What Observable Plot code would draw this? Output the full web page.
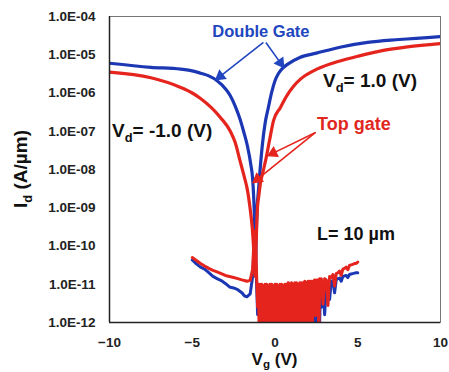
<!DOCTYPE html>
<html><head><meta charset="utf-8">
<script src="https://cdn.jsdelivr.net/npm/d3@7"></script>
<script src="https://cdn.jsdelivr.net/npm/@observablehq/plot@0.6"></script>
<style>body{margin:0;background:#fff} svg{display:block}</style>
</head><body><div id="chart"></div>
<script>
// ---- data ----
const xTicks = [-10, -5, 0, 5, 10];
const yTicks = [1e-12, 1e-11, 1e-10, 1e-9, 1e-8, 1e-7, 1e-6, 1e-5, 1e-4];

// Double Gate, full sweep
const blueMainV = [-10, -7.5, -5.7, -5, -4.5, -4, -3.5, -3, -2.7, -2.4, -2.1, -1.9, -1.66, -1.45, -1.36, -1.28, -1.22, -1.18, -1.14, -1.08, -1.0, -0.9, -0.75, -0.6, -0.4, -0.2, 0, 0.2, 0.45, 0.75, 1.5, 2.5, 4, 5.6, 7.5, 10];
const blueMainI = [6.0e-6, 4.7e-6, 4.2e-6, 3.8e-6, 3.3e-6, 2.8e-6, 2.1e-6, 1.3e-6, 8.5e-7, 4.5e-7, 2.0e-7, 1.0e-7, 4.0e-8, 1.26e-8, 6.3e-9, 1.6e-9, 2.5e-10, 2.0e-11, 1.6e-10, 1.0e-9, 2.8e-9, 1.0e-8, 5.0e-8, 1.6e-7, 4.2e-7, 1.05e-6, 2.1e-6, 3.2e-6, 4.4e-6, 5.6e-6, 8.5e-6, 1.1e-5, 1.6e-5, 2.1e-5, 2.5e-5, 3.0e-5];

// Top gate, full sweep
const redMainV = [-10, -7.5, -5.7, -5, -4.5, -3.3, -2.7, -2.4, -2.1, -1.85, -1.66, -1.48, -1.38, -1.3, -1.24, -1.2, -1.16, -1.1, -1.06, -0.98, -0.88, -0.72, -0.57, -0.33, -0.09, 0.33, 0.7, 1.12, 1.54, 2.33, 3.53, 5, 6.55, 8, 10];
const redMainI = [3.5e-6, 2.5e-6, 1.4e-6, 1.0e-6, 7.2e-7, 2.3e-7, 1.0e-7, 5.0e-8, 1.6e-8, 6.3e-9, 2.8e-9, 7.9e-10, 3.2e-10, 1.0e-10, 3.2e-11, 1.6e-11, 6.3e-11, 4.0e-10, 1.0e-9, 2.0e-9, 4.4e-9, 8.9e-9, 1.7e-8, 5.8e-8, 1.9e-7, 4.2e-7, 8.3e-7, 1.5e-6, 2.3e-6, 3.8e-6, 6.1e-6, 9.1e-6, 1.3e-5, 1.6e-5, 1.95e-5];

// low-voltage sweeps (-5 V .. 5 V): off-state branch
const lowV = [-5, -4.75, -4.5, -4.25, -4, -3.75, -3.5, -3.25, -3, -2.75, -2.5, -2.25, -2, -1.85, -1.7, -1.5, -1.35, -1.25, -1.15, -1.05, -1.0];
const redLowI = [5.0e-11, 4.2e-11, 3.5e-11, 3.0e-11, 2.6e-11, 2.3e-11, 2.1e-11, 1.9e-11, 1.7e-11, 1.6e-11, 1.5e-11, 1.4e-11, 1.3e-11, 1.25e-11, 1.2e-11, 1.26e-11, 2.5e-11, 2.5e-10, 6.0e-11, 2.5e-12, 1.0e-11];
const blueLowI = [4.3e-11, 3.4e-11, 2.8e-11, 2.5e-11, 2.0e-11, 1.6e-11, 1.4e-11, 1.25e-11, 1.05e-11, 8.5e-12, 8.0e-12, 7.2e-12, 6.0e-12, 5.0e-12, 4.7e-12, 5.6e-12, 1.6e-11, 1.6e-10, 3.0e-11, 1.6e-12, 8.0e-12];

// noise floor (-0.95 V .. 2.8 V)
const noiseV = [-0.95, -0.9, -0.85, -0.8, -0.75, -0.7, -0.65, -0.6, -0.55, -0.5, -0.45, -0.4, -0.35, -0.3, -0.25, -0.2, -0.15, -0.1, -0.05, 0,
  0.05, 0.1, 0.15, 0.2, 0.25, 0.3, 0.35, 0.4, 0.45, 0.5, 0.55, 0.6, 0.65, 0.7, 0.75, 0.8, 0.85, 0.9, 0.95, 1.0,
  1.05, 1.1, 1.15, 1.2, 1.25, 1.3, 1.35, 1.4, 1.45, 1.5, 1.55, 1.6, 1.65, 1.7, 1.75, 1.8, 1.85, 1.9, 1.95, 2.0,
  2.05, 2.1, 2.15, 2.2, 2.25, 2.3, 2.35, 2.4, 2.45, 2.5, 2.55, 2.6, 2.65, 2.7, 2.75, 2.8];
const redNoiseI = [3e-13, 1.0e-11, 4e-13, 1.0e-11, 2e-13, 9e-12, 5e-13, 1.0e-11, 1.5e-12, 1.0e-11, 3e-13, 9e-12, 6e-13, 1.0e-11, 2e-12, 1.0e-11, 4e-13, 9e-12, 1.2e-12, 1.0e-11,
  3e-13, 1.0e-11, 2.5e-12, 9e-12, 5e-13, 1.0e-11, 8e-13, 1.0e-11, 3e-13, 9e-12, 1.6e-12, 1.0e-11, 4e-13, 1.0e-11, 2e-13, 1.1e-11, 3e-12, 1.0e-11, 6e-13, 1.1e-11,
  1.3e-12, 1.0e-11, 4e-13, 1.1e-11, 2.5e-12, 1.1e-11, 5e-13, 1.0e-11, 3e-13, 1.1e-11, 4e-12, 1.1e-11, 6e-13, 1.1e-11, 2e-12, 1.2e-11, 4e-13, 1.1e-11, 3e-12, 1.2e-11,
  5e-13, 1.2e-11, 5e-12, 1.2e-11, 3e-13, 1.2e-11, 4e-12, 1.3e-11, 1.5e-12, 1.3e-11, 6e-12, 1.3e-11, 4e-13, 1.4e-11, 5e-12, 1.4e-11];
const blueNoiseI = [8e-12, 1e-12, 8e-12, 3e-13, 8e-12, 2e-12, 8e-12, 5e-13, 8e-12, 3e-13, 8e-12, 1.5e-12, 8e-12, 2e-13, 8e-12, 3e-12, 8e-12, 6e-13, 8e-12, 1e-12,
  8e-12, 4e-13, 8e-12, 2e-12, 8e-12, 5e-13, 8e-12, 3e-12, 8e-12, 3e-13, 8e-12, 1.5e-12, 8e-12, 6e-13, 8e-12, 2e-12, 8e-12, 4e-13, 8e-12, 3e-12,
  8e-12, 5e-13, 9e-12, 2e-12, 9e-12, 3e-13, 9e-12, 4e-12, 9e-12, 6e-13, 9e-12, 2e-12, 9e-12, 5e-13, 9e-12, 3e-12, 9e-12, 2e-13, 9e-12, 1.5e-12,
  1e-11, 4e-13, 1e-11, 3e-12, 1e-11, 6e-13, 1e-11, 2e-12, 1e-11, 5e-13, 1e-11, 3e-12, 1e-11, 1e-12, 1e-11, 2.5e-12];

// rising tail (2.9 V .. 5 V)
const tailV = [2.9, 3.0, 3.1, 3.2, 3.3, 3.4, 3.5, 3.6, 3.7, 3.8, 3.9, 4.0, 4.1, 4.2, 4.3, 4.4, 4.5, 4.6, 4.7, 4.8, 4.9, 5.0];
const redTailI = [3e-12, 1.4e-11, 1.3e-11, 2.8e-12, 1.6e-11, 1.5e-11, 1.8e-11, 9e-12, 1.9e-11, 2.0e-11, 2.2e-11, 1.7e-11, 2.5e-11, 2.6e-11, 2.8e-11, 2.4e-11, 3.1e-11, 3.2e-11, 3.3e-11, 3.5e-11, 3.5e-11, 3.8e-11];
const blueTailI = [1e-11, 1.6e-12, 1.0e-11, 1.1e-11, 4e-12, 1.2e-11, 1.25e-11, 6e-12, 1.3e-11, 1.4e-11, 1.45e-11, 1.2e-11, 1.6e-11, 1.65e-11, 1.7e-11, 1.5e-11, 1.8e-11, 1.85e-11, 1.9e-11, 1.95e-11, 2.0e-11, 2.0e-11];

// annotation arrows (data coordinates: V, A/µm)
const blueArrows = [{x1: -0.7, y1: 2.1e-5, x2: -3.47, y2: 2.4e-6}, {x1: -0.55, y1: 2.1e-5, x2: 0.45, y2: 5.2e-6}];
const redArrows = [{x1: 2.45, y1: 9.3e-8, x2: -0.3, y2: 2.45e-8}, {x1: 2.45, y1: 9.3e-8, x2: -1.22, y2: 4.9e-9}];

const BLUE = "#1c37b3", RED = "#e5241d", BLUE_TXT = "#2146c0";
const rows = (vs, is) => vs.map((v, k) => ({v, i: is[k]}));
const cat = (...pairs) => pairs.flatMap(([vs, is]) => rows(vs, is));

const W = 449, H = 372, ML = 109, MR = 9, MT = 16, MB = 50;
const FONT = "Liberation Sans, Arial, sans-serif";

// scales used to orient arrow heads (same as the plot's)
const xs = Plot.scale({x: {domain: [-10, 10], range: [ML, W - MR]}});
const ys = Plot.scale({y: {type: "log", domain: [1e-12, 1e-4], range: [H - MB, MT]}});
const heads = arr => arr.map(a => {
  const px1 = xs.apply(a.x1), py1 = ys.apply(a.y1), px2 = xs.apply(a.x2), py2 = ys.apply(a.y2);
  const dx = px2 - px1, dy = py2 - py1, L = Math.hypot(dx, dy);
  const bx = px2 - 3.5 * dx / L, by = py2 - 3.5 * dy / L;
  return {x: xs.invert(bx), y: ys.invert(by), rot: Math.atan2(dx, -dy) * 180 / Math.PI};
});

const smooth = (data, c) => Plot.line(data, {x: "v", y: "i", stroke: c, strokeWidth: 3.2, clip: true, curve: "monotone-x", strokeLinejoin: "round"});
const jag = (data, c, w) => Plot.line(data, {x: "v", y: "i", stroke: c, strokeWidth: w, clip: true, curve: "linear", strokeLinejoin: "round"});
const shafts = (arr, c) => Plot.link(arr, {x1: "x1", y1: "y1", x2: "x2", y2: "y2", stroke: c, strokeWidth: 1.6});
const tips = (arr, c) => Plot.dot(heads(arr), {x: "x", y: "y", rotate: "rot", symbol: "triangle", r: 4.5, fill: c, stroke: "none"});

const plot = Plot.plot({
  width: W, height: H,
  marginLeft: ML, marginRight: MR, marginTop: MT, marginBottom: MB,
  style: {fontFamily: FONT, fontSize: "13.5px", fontWeight: "bold", color: "#222", background: "#fff"},
  x: {domain: [-10, 10], ticks: xTicks, tickSize: 0, tickPadding: 15, label: null},
  y: {type: "log", domain: [1e-12, 1e-4], ticks: yTicks, tickSize: 0, tickPadding: 14, label: null,
      tickFormat: d => "1.0E-" + String(-Math.round(Math.log10(d))).padStart(2, "0")},
  marks: [
    Plot.frame({stroke: "#777", strokeWidth: 1}),
    smooth(rows(blueMainV, blueMainI), BLUE),
    jag(cat([lowV, blueLowI], [noiseV, blueNoiseI], [tailV, blueTailI]), BLUE, 3),
    smooth(rows(redMainV, redMainI), RED),
    jag(cat([lowV, redLowI], [noiseV, redNoiseI], [tailV, redTailI]), RED, 3),
    Plot.ruleX([-10], {stroke: "#222", strokeWidth: 1.5}),
    Plot.ruleY([1e-12], {stroke: "#222", strokeWidth: 1.5}),
    shafts(blueArrows, BLUE_TXT), tips(blueArrows, BLUE_TXT),
    shafts(redArrows, RED), tips(redArrows, RED)
  ]
});

document.getElementById("chart").append(plot);

// ---- text annotations with subscripts ----
const sx = plot.scale("x"), sy = plot.scale("y");
const svg = d3.select(plot);
const notes = [
  {parts: [["Double Gate"]], v: -0.82, i: 3.8e-5, anchor: "middle", color: BLUE_TXT, size: 16.5},
  {parts: [["Top gate"]], v: 2.57, i: 1.4e-7, anchor: "start", color: "#e0281e", size: 18},
  {parts: [["V"], ["d", 1], ["= 1.0 (V)"]], v: 2.93, i: 1.86e-6, anchor: "start", color: "#111", size: 19},
  {parts: [["V"], ["d", 1], ["= -1.0 (V)"]], v: -9.82, i: 9.3e-8, anchor: "start", color: "#111", size: 19},
  {parts: [["L= 10 µm"]], v: 2.57, i: 1.86e-10, anchor: "start", color: "#111", size: 18}
];
function addRich(parent, parts, size, drop = 0.28) {
  let shifted = false;
  parts.forEach(([t, sub]) => {
    const ts = parent.append("tspan").text(t).attr("font-size", sub ? size * 0.68 : size);
    if (sub && !shifted) { ts.attr("dy", size * drop); shifted = true; }
    else if (!sub && shifted) { ts.attr("dy", -size * drop); shifted = false; }
  });
}
notes.forEach(n => {
  const t = svg.append("text")
    .attr("x", sx.apply(n.v)).attr("y", sy.apply(n.i))
    .attr("dy", "0.36em")
    .attr("text-anchor", n.anchor)
    .attr("fill", n.color)
    .attr("font-family", FONT).attr("font-weight", "bold");
  addRich(t, n.parts, n.size);
});

// axis titles
const xMid = (ML + (W - MR)) / 2, yMid = (MT + (H - MB)) / 2;
const xl = svg.append("text").attr("x", xMid).attr("y", H - 7).attr("text-anchor", "middle")
  .attr("fill", "#111").attr("font-family", FONT).attr("font-weight", "bold");
addRich(xl, [["V"], ["g", 1], [" (V)"]], 17, 0.15);
const yl = svg.append("text").attr("transform", `translate(${ML - 82},${yMid}) rotate(-90)`).attr("text-anchor", "middle")
  .attr("fill", "#111").attr("font-family", FONT).attr("font-weight", "bold");
addRich(yl, [["I"], ["d", 1], [" (A/µm)"]], 19);
</script>
</body></html>
